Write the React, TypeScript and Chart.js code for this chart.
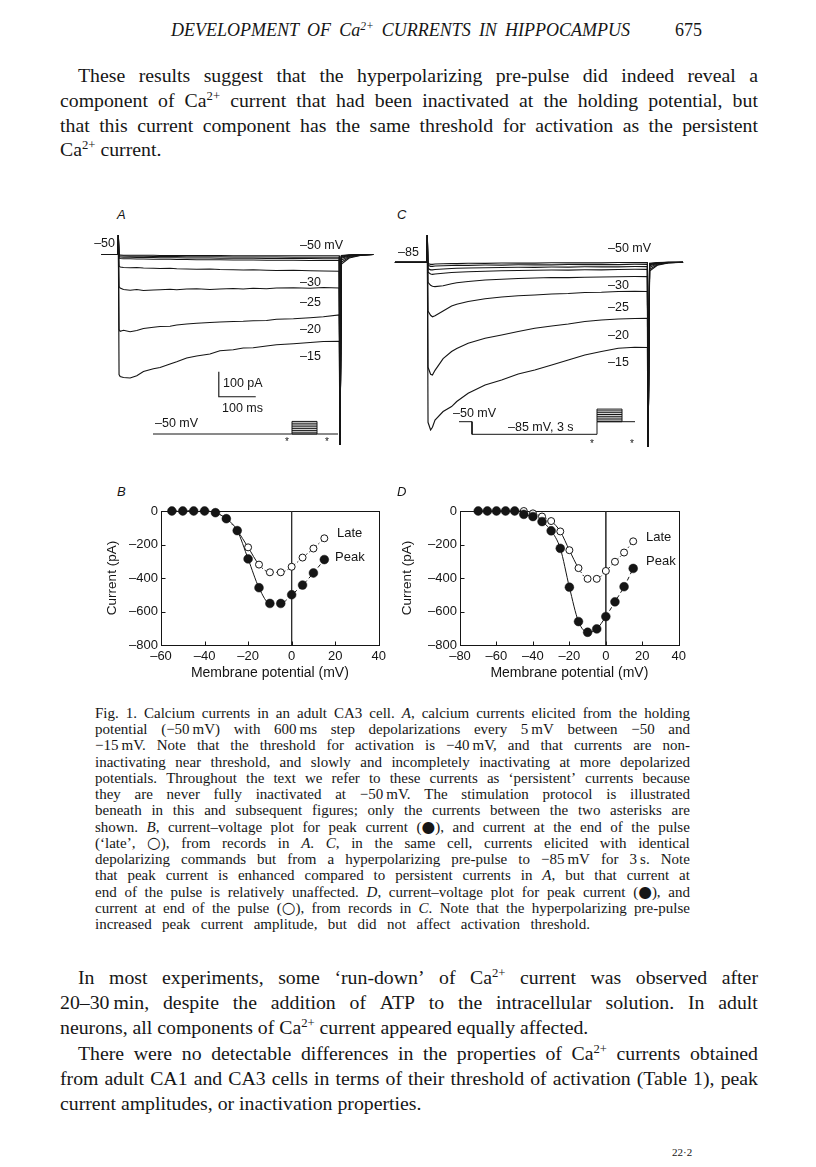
import React, { useEffect, useRef } from 'react';
import { Chart, registerables } from 'chart.js';
Chart.register(...registerables);

// ---------------- I–V data (panel B, from records in A) ----------------
const B_VOLT = [-55, -50, -45, -40, -35, -30, -25, -20, -15, -10, -5, 0, 5, 10, 15];
const B_PEAK = [0, 0, 0, 0, -10, -46, -117, -286, -458, -552, -552, -500, -442, -370, -290];
const B_LATE = [0, 0, 0, 0, -10, -46, -117, -217, -320, -366, -366, -333, -278, -224, -163];

// ---------------- I–V data (panel D, from records in C) ----------------
const D_VOLT = [-70, -65, -60, -55, -50, -45, -40, -35, -30, -25, -20, -15, -10, -5, 0, 5, 10, 15];
const D_PEAK = [0, 0, 0, 0, 0, -20, -33, -63, -118, -223, -455, -660, -724, -704, -630, -542, -452, -343];
const D_LATE = [0, 0, 0, 0, 0, 0, -14, -33, -60, -122, -234, -341, -405, -405, -358, -303, -248, -181];

// ---------------- current traces, panel A (ms, pA) ----------------
const A_TIME = [-45, -1, 0, 2, 5, 14, 32, 50, 68, 95, 113, 140, 158, 185, 212, 248, 275, 311, 338, 365, 401, 428, 474, 519, 555, 598, 600, 604, 625, 655, 690];
const A_M15 = [0, 0, 78, -480, -488, -492, -494, -485, -468, -457, -452, -438, -429, -414, -406, -398, -385, -381, -374, -373, -366, -361, -357, -352, -348, -347, -762, -38, -14, -4, 0];
const A_M20 = [0, 0, 78, -300, -307, -303, -309, -304, -296, -291, -288, -287, -282, -278, -275, -272, -270, -268, -267, -265, -264, -259, -257, -253, -249, -242, -762, -30, -11, -3, 0];
const A_M25 = [0, 0, 78, -128, -134, -140, -143, -140, -144, -142, -141, -139, -141, -138, -137, -140, -138, -136, -138, -135, -137, -134, -133, -135, -132, -134, -762, -22, -8, -2, 0];
const A_M30 = [0, 0, 78, -46, -50, -52, -53, -52, -54, -55, -56, -55, -57, -58, -59, -58, -60, -61, -62, -61, -63, -64, -63, -65, -66, -67, -762, -15, -6, -2, 0];
const A_M35 = [0, 0, 78, -14, -16, -17, -17, -18, -18, -19, -19, -19, -20, -20, -21, -21, -21, -22, -22, -22, -23, -23, -23, -24, -24, -24, -762, -11, -4, -1, 0];
const A_M40 = [0, 0, 78, -9, -10, -11, -11, -12, -12, -12, -13, -13, -13, -14, -14, -14, -15, -15, -15, -15, -16, -16, -16, -16, -17, -17, -762, -8, -3, -1, 0];
const A_M45 = [0, 0, 78, -5, -6, -6, -7, -7, -7, -8, -8, -8, -8, -9, -9, -9, -9, -10, -10, -10, -10, -10, -11, -11, -11, -11, -762, -6, -2, 0, 0];
const A_M50 = [0, 0, 78, -2, -2, -3, -3, -3, -3, -3, -4, -4, -4, -4, -4, -4, -4, -5, -5, -5, -5, -5, -5, -5, -5, -5, -762, -4, -1, 0, 0];

// ---------------- current traces, panel C (ms, pA) ----------------
const C_TIME = [-88, -1, 0, 2, 9, 14, 21, 43, 66, 80, 111, 157, 202, 247, 292, 338, 383, 428, 473, 519, 564, 598, 600, 604, 625, 655, 695];
const C_M15 = [0, 0, 109, -640, -671, -660, -631, -597, -577, -557, -524, -491, -471, -447, -431, -411, -391, -371, -357, -344, -340, -341, -739, -35, -12, -3, 0];
const C_M20 = [0, 0, 109, -420, -448, -451, -432, -385, -357, -345, -324, -304, -291, -277, -264, -255, -247, -237, -231, -227, -225, -224, -739, -28, -10, -2, 0];
const C_M25 = [0, 0, 109, -195, -212, -218, -214, -195, -175, -168, -157, -146, -139, -134, -131, -127, -125, -121, -120, -117, -116, -117, -739, -20, -7, -2, 0];
const C_M30 = [0, 0, 109, -80, -92, -96, -97, -94, -86, -82, -77, -71, -68, -65, -63, -61, -61, -60, -59, -58, -57, -57, -739, -14, -5, -1, 0];
const C_M35 = [0, 0, 109, -40, -47, -48, -47, -44, -41, -40, -38, -36, -34, -33, -32, -31, -31, -30, -30, -29, -28, -28, -739, -10, -4, -1, 0];
const C_M40 = [0, 0, 109, -25, -30, -30, -29, -27, -25, -24, -23, -22, -21, -20, -20, -19, -19, -18, -18, -18, -17, -17, -739, -8, -3, 0, 0];
const C_M45 = [0, 0, 109, -12, -16, -16, -15, -14, -13, -12, -12, -11, -11, -10, -10, -10, -9, -9, -9, -9, -8, -8, -739, -6, -2, 0, 0];
const C_M50 = [0, 0, 109, -5, -8, -8, -7, -6, -5, -5, -4, -4, -3, -3, -3, -2, -2, -2, -2, -1, -1, -1, -739, -4, -1, 0, 0];

// ---------------- stimulation protocols (schematic ms, mV) ----------------
const STEP_MV = [-50, -45, -40, -35, -30, -25, -20, -15];
const STEP_T = [0, 600];
const A_PROTO_T = [-3336, 1104];
const A_PROTO_MV = [-50, -50];
const C_PROTO_T = [-3312, -3000, -3000, 0, 0, 912];
const C_PROTO_MV = [-50, -50, -85, -85, -50, -50];

// ---------------- calibration bar (panel A) ----------------
const SCALEBAR_MS = 100;
const SCALEBAR_PA = 100;
const SCALEBAR_ORIGIN = [272, -569];

const SANS = '"Liberation Sans", Arial, Helvetica, sans-serif';
const SERIF = '"Liberation Serif", "Times New Roman", serif';
const INK = '#151515';

const pts = (xs: number[], ys: number[]) => xs.map((x, i) => ({ x, y: ys[i] }));

function stepPolyline() {
  const out: any[] = [];
  STEP_MV.forEach((v) => {
    out.push({ x: STEP_T[0], y: v }, { x: STEP_T[1], y: v }, { x: STEP_T[1], y: null });
  });
  out.push({ x: STEP_T[0], y: STEP_MV[0] }, { x: STEP_T[0], y: STEP_MV[STEP_MV.length - 1] }, { x: STEP_T[0], y: null });
  out.push({ x: STEP_T[1], y: STEP_MV[0] }, { x: STEP_T[1], y: STEP_MV[STEP_MV.length - 1] });
  return out;
}

const traceDs = (data: any[]) => ({ data, borderColor: INK, borderWidth: 1.15, pointRadius: 0, tension: 0, fill: false, xAxisID: 'x', yAxisID: 'y' });
const protoDs = (data: any[]) => ({ data, borderColor: INK, borderWidth: 1, pointRadius: 0, tension: 0, fill: false, spanGaps: false, xAxisID: 'xp', yAxisID: 'yp' });

function hidden(min: number, max: number, axis: string) {
  return { type: 'linear', axis, display: false, min, max };
}

function traceConfig(datasets: any[], xr: number[], yr: number[], xpr: number[], ypr: number[]) {
  return {
    type: 'line',
    data: { datasets },
    options: {
      responsive: false,
      animation: false,
      events: [],
      layout: { padding: 0, autoPadding: false },
      plugins: { legend: { display: false }, tooltip: { enabled: false } },
      scales: {
        x: hidden(xr[0], xr[1], 'x'),
        y: hidden(yr[0], yr[1], 'y'),
        xp: hidden(xpr[0], xpr[1], 'x'),
        yp: hidden(ypr[0], ypr[1], 'y'),
      },
    },
  };
}

function configA() {
  const traces = [A_M50, A_M45, A_M40, A_M35, A_M30, A_M25, A_M20, A_M15].map((tr) => traceDs(pts(A_TIME, tr)));
  const [t0, i0] = SCALEBAR_ORIGIN;
  const bar = traceDs([{ x: t0, y: i0 + SCALEBAR_PA }, { x: t0, y: i0 }, { x: t0 + SCALEBAR_MS, y: i0 }]);
  return traceConfig(
    [...traces, bar, protoDs(pts(A_PROTO_T, A_PROTO_MV)), protoDs(stepPolyline())],
    [-63.1, 748.9], [-802, 118], [-4728, 2472], [-108.3, 530.6]
  );
}

function configC() {
  const traces = [C_M50, C_M45, C_M40, C_M35, C_M30, C_M25, C_M20, C_M15].map((tr) => traceDs(pts(C_TIME, tr)));
  return traceConfig(
    [...traces, protoDs(pts(C_PROTO_T, C_PROTO_MV)), protoDs(stepPolyline())],
    [-114.9, 727.4], [-770.8, 149.2], [-5088, 2352], [-142.5, 496.4]
  );
}

const framePlugin = {
  id: 'frame',
  beforeDatasetsDraw(chart: any) {
    const { ctx, chartArea: a, scales } = chart;
    const L = Math.round(a.left) + 0.5, R = Math.round(a.right) + 0.5;
    const T = Math.round(a.top) + 0.5, B = Math.round(a.bottom) + 0.5;
    ctx.save();
    ctx.strokeStyle = INK;
    ctx.lineWidth = 1;
    ctx.strokeRect(L, T, R - L, B - T);
    ctx.beginPath();
    scales.x.ticks.forEach((t: any) => {
      const px = Math.round(scales.x.getPixelForValue(t.value)) + 0.5;
      ctx.moveTo(px, B); ctx.lineTo(px, B - 4);
    });
    scales.y.ticks.forEach((t: any) => {
      const py = Math.round(scales.y.getPixelForValue(t.value)) + 0.5;
      ctx.moveTo(L, py); ctx.lineTo(L + 4, py);
    });
    ctx.stroke();
    ctx.restore();
  },
};

const fmtTick = (v: any) => (v < 0 ? '–' + Math.abs(v) : String(v));

function ivConfig(volt: number[], peak: number[], late: number[], xmin: number, yWidth: number, padRight: number,
  peakDash: (a: number, b: number) => boolean, lateDash: (a: number, b: number) => boolean) {
  return {
    type: 'line',
    data: {
      datasets: [
        {
          label: 'Peak', data: pts(volt, peak), order: 0, clip: false,
          borderColor: INK, borderWidth: 1, cubicInterpolationMode: 'monotone',
          pointRadius: 4.4, pointBackgroundColor: INK, pointBorderColor: INK, pointBorderWidth: 0.5,
          segment: { borderDash: (c: any) => (peakDash(c.p0.parsed.x, c.p1.parsed.x) ? [4, 3] : undefined) },
        },
        {
          label: 'Late', data: pts(volt, late), order: 1, clip: false,
          borderColor: INK, borderWidth: 1, cubicInterpolationMode: 'monotone',
          pointRadius: 3.5, pointBackgroundColor: '#ffffff', pointBorderColor: INK, pointBorderWidth: 1,
          segment: { borderDash: (c: any) => (lateDash(c.p0.parsed.x, c.p1.parsed.x) ? [1.5, 2.5] : undefined) },
        },
        {
          label: 'zero', data: [{ x: 0, y: 0 }, { x: 0, y: -800 }], order: 2,
          borderColor: '#2a2a2a', borderWidth: 0.8, pointRadius: 0,
        },
      ],
    },
    options: {
      responsive: false,
      animation: false,
      events: [],
      layout: { padding: { left: 0, right: padRight, top: 11, bottom: 0 }, autoPadding: false },
      plugins: { legend: { display: false }, tooltip: { enabled: false } },
      scales: {
        x: {
          type: 'linear', min: xmin, max: 40,
          afterFit: (s: any) => { s.height = 40; },
          grid: { display: false, drawTicks: false }, border: { display: false },
          ticks: { stepSize: 20, padding: 4, color: INK, autoSkip: false, maxRotation: 0, font: { family: SANS, size: 13 }, callback: fmtTick },
          title: { display: true, text: 'Membrane potential (mV)', color: INK, font: { family: SANS, size: 14 }, padding: { top: 0, bottom: 3 } },
        },
        y: {
          type: 'linear', min: -800, max: 0,
          afterFit: (s: any) => { s.width = yWidth; },
          grid: { display: false, drawTicks: false }, border: { display: false },
          ticks: { stepSize: 200, padding: 3, color: INK, autoSkip: false, font: { family: SANS, size: 13 }, callback: fmtTick },
          title: { display: true, text: 'Current (pA)', color: INK, font: { family: SANS, size: 13.5 }, padding: { top: 4, bottom: 0 } },
        },
      },
    },
    plugins: [framePlugin],
  };
}

function ChartBox({ left, top, width, height, make }: { left: number; top: number; width: number; height: number; make: () => any }) {
  const ref = useRef<HTMLCanvasElement>(null);
  useEffect(() => {
    const chart = new Chart(ref.current as HTMLCanvasElement, make());
    return () => chart.destroy();
  }, []);
  return (
    <div style={{ position: 'absolute', left, top, width, height }}>
      <canvas ref={ref} width={width} height={height} style={{ width, height, display: 'block' }} />
    </div>
  );
}

// ---------------- rich text helpers ----------------
function rich(s: string) {
  const parts = s.split(/(\^\{[^}]*\}|\*[^*]+\*|[●○])/g).filter((p) => p !== '');
  return parts.map((p, i) => {
    if (p.startsWith('^{')) return <span key={i} style={{ fontSize: '0.64em', position: 'relative', top: '-0.55em' }}>{p.slice(2, -1)}</span>;
    if (p.length > 2 && p.startsWith('*') && p.endsWith('*')) return <i key={i}>{p.slice(1, -1)}</i>;
    if (p === '●' || p === '○') return <span key={i} style={{ fontFamily: '"DejaVu Sans", sans-serif', fontSize: '1.05em' }}>{p}</span>;
    return <React.Fragment key={i}>{p}</React.Fragment>;
  });
}

function TextLine({ text, x, y, w, justify, size, italic }: { text: string; x: number; y: number; w: number; justify?: boolean; size: number; italic?: boolean }) {
  const h = 22;
  const style: React.CSSProperties = {
    position: 'absolute', left: x, top: y - h / 2, width: w, height: h, lineHeight: h + 'px',
    fontSize: size, fontFamily: SERIF, fontStyle: italic ? 'italic' : 'normal', color: '#161616', whiteSpace: 'pre',
  };
  if (justify) {
    const words = text.split(' ');
    return (
      <div style={{ ...style, display: 'flex', justifyContent: 'space-between' }}>
        {words.map((wd, i) => <span key={i}>{rich(wd)}</span>)}
      </div>
    );
  }
  return <div style={style}>{rich(text)}</div>;
}

function Label({ x, y, text, size = 12.5, italic, align = 'left', family = SANS }: { x: number; y: number; text: string; size?: number; italic?: boolean; align?: 'left' | 'right' | 'center'; family?: string }) {
  const w = 200;
  const left = align === 'left' ? x : align === 'right' ? x - w : x - w / 2;
  return (
    <div style={{ position: 'absolute', left, top: y - 10, width: w, height: 20, lineHeight: '20px', textAlign: align, fontSize: size, fontFamily: family, fontStyle: italic ? 'italic' : 'normal', color: INK, whiteSpace: 'pre' }}>
      {text}
    </div>
  );
}

const BODY = 19.8;
const CAP = 15;

const PARA1 = [
  'These results suggest that the hyperpolarizing pre-pulse did indeed reveal a',
  'component of Ca^{2+} current that had been inactivated at the holding potential, but',
  'that this current component has the same threshold for activation as the persistent',
  'Ca^{2+} current.',
];
const PARA1_Y = [75, 100, 124.5, 149];

const CAPTION = [
  'Fig. 1. Calcium currents in an adult CA3 cell. *A*, calcium currents elicited from the holding',
  'potential (−50\u2009mV) with 600\u2009ms step depolarizations every 5\u2009mV between −50 and',
  '−15\u2009mV. Note that the threshold for activation is −40\u2009mV, and that currents are non-',
  'inactivating near threshold, and slowly and incompletely inactivating at more depolarized',
  'potentials. Throughout the text we refer to these currents as ‘persistent’ currents because',
  'they are never fully inactivated at −50\u2009mV. The stimulation protocol is illustrated',
  'beneath in this and subsequent figures; only the currents between the two asterisks are',
  'shown. *B*, current–voltage plot for peak current (●), and current at the end of the pulse',
  '(‘late’, ○), from records in *A*. *C*, in the same cell, currents elicited with identical',
  'depolarizing commands but from a hyperpolarizing pre-pulse to −85\u2009mV for 3\u2009s. Note',
  'that peak current is enhanced compared to persistent currents in *A*, but that current at',
  'end of the pulse is relatively unaffected. *D*, current–voltage plot for peak current (●), and',
  'current at end of the pulse (○), from records in *C*. Note that the hyperpolarizing pre-pulse',
  'increased peak current amplitude, but did not affect activation threshold.',
];
// the last caption line is not justified to the full measure; it stops short
const CAPTION_W = [595, 595, 595, 595, 595, 595, 595, 595, 595, 595, 595, 595, 595, 495];

const PARA2 = [
  'In most experiments, some ‘run-down’ of Ca^{2+} current was observed after',
  '20–30\u2009min, despite the addition of ATP to the intracellular solution. In adult',
  'neurons, all components of Ca^{2+} current appeared equally affected.',
  'There were no detectable differences in the properties of Ca^{2+} currents obtained',
  'from adult CA1 and CA3 cells in terms of their threshold of activation (Table 1), peak',
  'current amplitudes, or inactivation properties.',
];
const PARA2_Y = [977, 1002, 1027, 1053, 1078, 1103];
const PARA2_INDENT = [true, false, false, true, false, false];
const PARA2_JUST = [true, true, false, true, true, false];

export default function App() {
  return (
    <div style={{ position: 'absolute', left: 0, top: 0, width: 816, height: 1167, background: '#ffffff', overflow: 'hidden' }}>
      {/* running head */}
      <TextLine text={'DEVELOPMENT OF Ca^{2+} CURRENTS IN HIPPOCAMPUS'} x={171} y={30} w={459} justify size={18} italic />
      <TextLine text="675" x={675} y={30} w={40} size={18} />

      {PARA1.map((t, i) => (
        <TextLine key={'p1' + i} text={t} x={i === 0 ? 78 : 60} y={PARA1_Y[i]} w={i === 0 ? 680 : 698} justify={i < 3} size={BODY} />
      ))}

      {/* panel A */}
      <Label x={117} y={215} text="A" italic size={13} />
      <ChartBox left={95} top={225} width={300} height={230} make={configA} />
      <Label x={115} y={243} text="–50" align="right" />
      <Label x={300} y={245} text="–50 mV" />
      <Label x={300} y={282} text="–30" />
      <Label x={300} y={302} text="–25" />
      <Label x={300} y={329} text="–20" />
      <Label x={300} y={356} text="–15" />
      <Label x={223} y={383} text="100 pA" />
      <Label x={222} y={408} text="100 ms" />
      <Label x={155} y={423} text="–50 mV" />
      <Label x={287} y={442} text="*" align="center" size={10} />
      <Label x={327} y={442} text="*" align="center" size={10} />

      {/* panel C */}
      <Label x={397} y={215} text="C" italic size={13} />
      <ChartBox left={385} top={225} width={310} height={230} make={configC} />
      <Label x={398} y={252} text="–85" />
      <Label x={608} y={248} text="–50 mV" />
      <Label x={608} y={285} text="–30" />
      <Label x={608} y={307} text="–25" />
      <Label x={608} y={335} text="–20" />
      <Label x={608} y={362} text="–15" />
      <Label x={453} y={413} text="–50 mV" />
      <Label x={508} y={427} text="–85 mV, 3 s" />
      <Label x={592} y={444} text="*" align="center" size={10} />
      <Label x={632} y={444} text="*" align="center" size={10} />

      {/* panel B */}
      <Label x={117} y={492} text="B" italic size={13} />
      <ChartBox left={100} top={500} width={290} height={185}
        make={() => ivConfig(B_VOLT, B_PEAK, B_LATE, -60, 61, 10,
          (a, b) => a >= -10 || b <= -30,
          (a, b) => a >= -15 || b <= -25)} />
      <Label x={337} y={533} text="Late" size={13} />
      <Label x={335} y={557} text="Peak" size={13} />

      {/* panel D */}
      <Label x={397} y={492} text="D" italic size={13} />
      <ChartBox left={395} top={500} width={295} height={185}
        make={() => ivConfig(D_VOLT, D_PEAK, D_LATE, -80, 65, 9.5,
          (a, b) => a >= 0 || b <= -30,
          (a, b) => a >= -15 || b <= -30)} />
      <Label x={646} y={537} text="Late" size={13} />
      <Label x={646} y={561} text="Peak" size={13} />

      {CAPTION.map((t, i) => (
        <TextLine key={'c' + i} text={t} x={95} y={713 + i * 16.23} w={CAPTION_W[i]} justify size={CAP} />
      ))}

      {PARA2.map((t, i) => (
        <TextLine key={'p2' + i} text={t} x={PARA2_INDENT[i] ? 78 : 60} y={PARA2_Y[i]} w={PARA2_INDENT[i] ? 680 : 698} justify={PARA2_JUST[i]} size={BODY} />
      ))}

      <TextLine text="22·2" x={672} y={1152} w={40} size={11} />
    </div>
  );
}
